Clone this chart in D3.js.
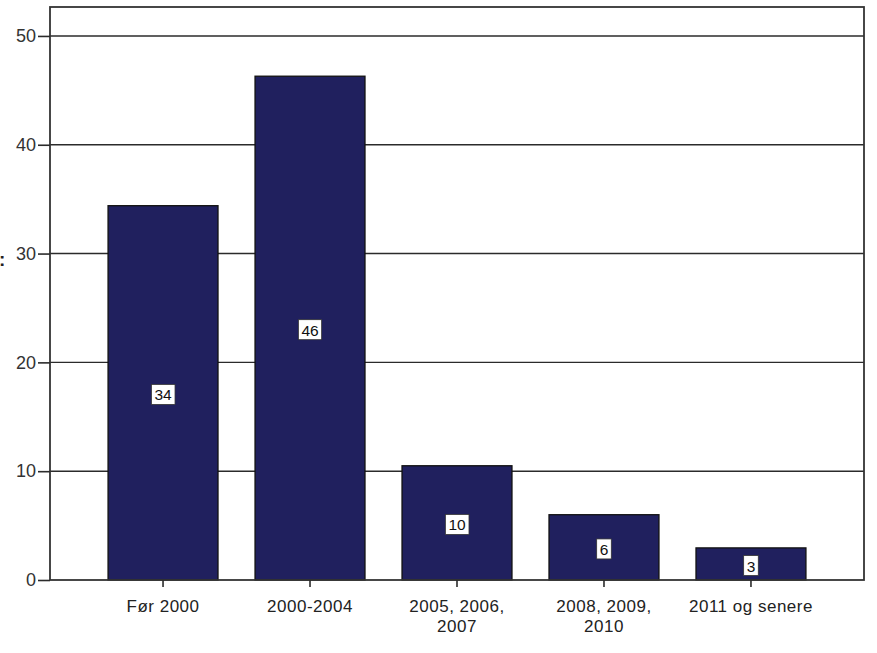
<!DOCTYPE html>
<html><head><meta charset="utf-8">
<script src="https://cdn.jsdelivr.net/npm/d3@7"></script>
<style>body{margin:0;background:#fff}svg{display:block}</style>
</head><body>
<script>
const categories = [["Før 2000"], ["2000-2004"], ["2005, 2006,", "2007"], ["2008, 2009,", "2010"], ["2011 og senere"]];
const values = [34.4, 46.3, 10.5, 6.0, 2.95];
const valueLabels = ["34", "46", "10", "6", "3"];
const yTicks = [0, 10, 20, 30, 40, 50];

const W = 877, H = 653;
const L = 50, R = 864, T = 7, B = 580;
const FONT = "Liberation Sans, Arial, sans-serif";
const svg = d3.select("body").append("svg").attr("width", W).attr("height", H);

const x = d3.scaleBand().domain(d3.range(values.length)).range([L, R]).paddingInner(0.252).paddingOuter(0.395);
const y = d3.scaleLinear().domain([0, 52.66]).range([B, T]);

// gridlines
svg.append("g").selectAll("line").data(yTicks.filter(d => d > 0)).join("line")
  .attr("x1", L).attr("x2", R).attr("y1", d => y(d)).attr("y2", d => y(d))
  .attr("stroke", "#2b2b2b").attr("stroke-width", 1.4);

// bars
svg.append("g").selectAll("rect").data(values).join("rect")
  .attr("x", (d, i) => x(i)).attr("width", x.bandwidth())
  .attr("y", d => y(d)).attr("height", d => B - y(d))
  .attr("fill", "#20205e").attr("stroke", "#111").attr("stroke-width", 1.3);

// value labels
const lab = svg.append("g").selectAll("g").data(values).join("g")
  .attr("transform", (d, i) => `translate(${x(i) + x.bandwidth() / 2},${(y(d) + B) / 2 + 2})`);
lab.append("text").text((d, i) => valueLabels[i])
  .attr("text-anchor", "middle").attr("dy", "0.36em")
  .attr("font-family", FONT).attr("font-size", 15.5).attr("fill", "#111")
  .each(function () {
    const bb = this.getBBox();
    d3.select(this.parentNode).insert("rect", "text")
      .attr("x", bb.x - 3).attr("y", bb.y - 2).attr("width", bb.width + 6).attr("height", bb.height + 3)
      .attr("fill", "#fff").attr("stroke", "#333").attr("stroke-width", 0.8);
  });

// frame
svg.append("rect").attr("x", L).attr("y", T).attr("width", R - L).attr("height", B - T)
  .attr("fill", "none").attr("stroke", "#333").attr("stroke-width", 1.8);

// y axis
const yAxis = d3.axisLeft(y).tickValues(yTicks).tickSize(12).tickPadding(2).tickSizeOuter(0);
const gy = svg.append("g").attr("transform", `translate(${L},0)`).call(yAxis);
gy.select(".domain").remove();
gy.selectAll("line").attr("stroke", "#2b2b2b").attr("stroke-width", 1.6);
gy.selectAll("text").attr("font-family", FONT).attr("font-size", 18).attr("fill", "#333");

// x axis
const xAxis = d3.axisBottom(x).tickSize(7).tickPadding(10).tickSizeOuter(0).tickFormat(() => "");
const gx = svg.append("g").attr("transform", `translate(0,${B})`).call(xAxis);
gx.select(".domain").remove();
gx.selectAll("line").attr("stroke", "#2b2b2b").attr("stroke-width", 1.6);
gx.selectAll(".tick").each(function (d) {
  const t = d3.select(this).append("text").attr("fill", "#222").attr("text-anchor", "middle")
    .attr("font-family", FONT).attr("font-size", 17).attr("letter-spacing", 0.5);
  categories[d].forEach((line, j) => {
    t.append("tspan").attr("x", 0).attr("y", 32 + j * 20).text(line);
  });
});

// clipped y title remnant
svg.append("text").attr("x", -1).attr("y", 266).text(":")
  .attr("font-family", FONT).attr("font-size", 19).attr("font-weight", "bold").attr("fill", "#222");
</script>
</body></html>
